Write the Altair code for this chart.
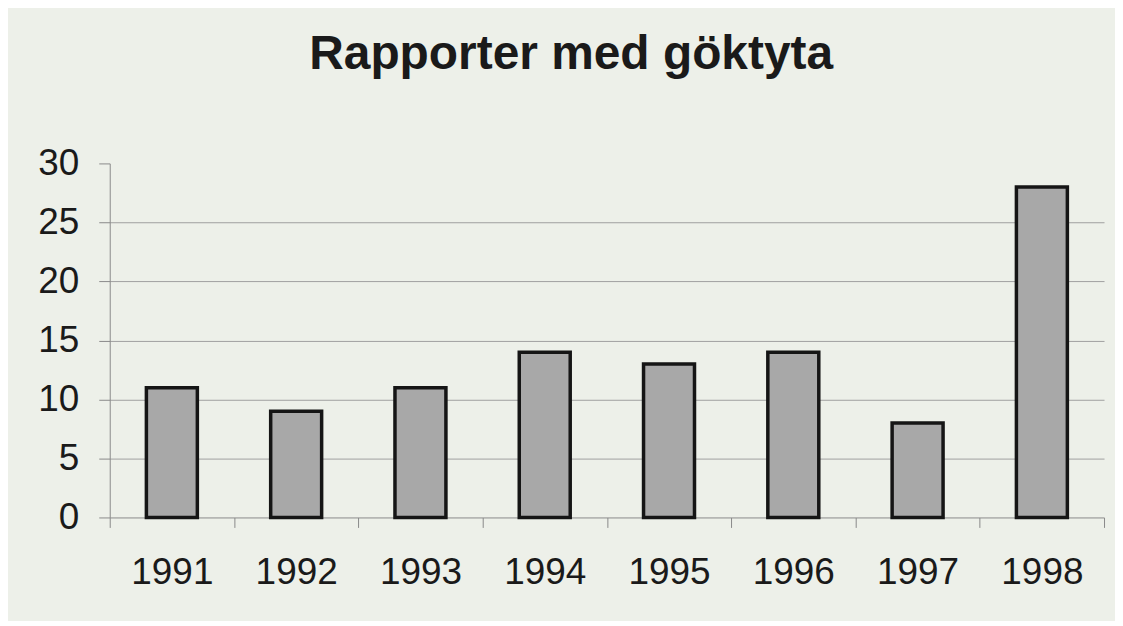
import altair as alt
import pandas as pd

years = ["1991", "1992", "1993", "1994", "1995", "1996", "1997", "1998"]
reports = [11, 9, 11, 14, 13, 14, 8, 28]
y_ticks = [0, 5, 10, 15, 20, 25, 30]
title_text = "Rapporter med göktyta"

df = pd.DataFrame({"year": years, "reports": reports})

FONT = "Liberation Sans"
BG = "#edf0e9"

chart = (
    alt.Chart(df)
    .mark_bar(fill="#a8a8a8", stroke="#151515", strokeWidth=3.5,
              width=alt.RelativeBandSize(0.41))
    .encode(
        x=alt.X(
            "year:N",
            sort=years,
            title=None,
            scale=alt.Scale(paddingInner=0, paddingOuter=0),
            axis=alt.Axis(
                labelAngle=0,
                labelFont=FONT,
                labelFontSize=37,
                labelColor="#1a1a1a",
                labelPadding=27,
                tickBand="extent",
                tickSize=10,
                tickColor="#8a8a8a",
                domainColor="#8a8a8a",
                grid=False,
            ),
        ),
        y=alt.Y(
            "reports:Q",
            title=None,
            scale=alt.Scale(domain=[0, 30], nice=False),
            axis=alt.Axis(
                values=y_ticks,
                labelFont=FONT,
                labelFontSize=37,
                labelColor="#1a1a1a",
                labelPadding=20,
                tickSize=11,
                tickColor="#8a8a8a",
                domainColor="#8a8a8a",
                grid=True,
                gridColor="#a0a0a0",
                gridWidth=1,
                gridOpacity=alt.condition("datum.value == 30 || datum.value == 0", alt.value(0), alt.value(1)),
            ),
        ),
    )
    .properties(
        width=997,
        height=355,
        title=alt.TitleParams(
            title_text,
            font=FONT,
            fontSize=48,
            fontWeight="bold",
            color="#1a1a1a",
            anchor="middle",
            frame="bounds",
            offset=66,
        ),
        padding={"left": 29, "top": 22, "right": 10, "bottom": 30},
        background=BG,
    )
    .configure_view(stroke=None)
)

chart.save("out.html", embed_options={"renderer": "svg", "actions": False})
